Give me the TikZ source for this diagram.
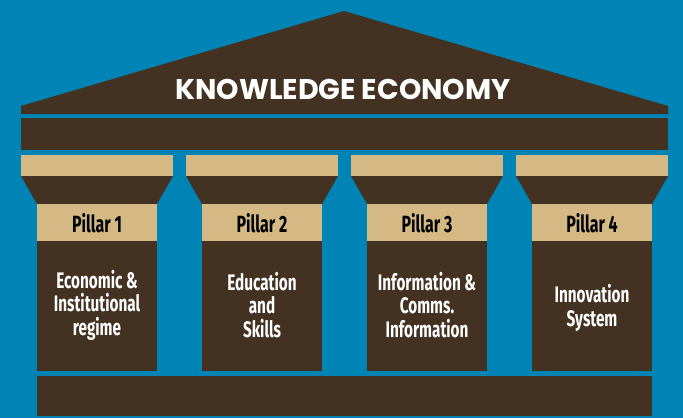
\documentclass[tikz,border=0pt]{standalone}
\usepackage{fontspec}
\newfontfamily\rooffont{Poppins}
\newfontfamily\condfont[FakeStretch=0.68]{Fira Sans}
\definecolor{bg}{HTML}{0083B5}
\definecolor{brn}{HTML}{433122}
\definecolor{tanc}{HTML}{D4B984}
\tikzset{
  roofstyle/.style={text=white,font=\rooffont\bfseries\fontsize{28.5}{30}\selectfont,inner sep=0pt},
  hdrstyle/.style={text=black,font=\condfont\bfseries\fontsize{23.5}{25}\selectfont,inner sep=0pt},
  bodystyle/.style={text=white,align=center,font=\condfont\bfseries\fontsize{22.5}{23.5}\selectfont,inner sep=0pt},
}
\begin{document}
\begin{tikzpicture}[x=1pt,y=-1pt]
\useasboundingbox (0,0) rectangle (683,418);
\fill[bg] (0,0) rectangle (683,418);
% roof
\fill[brn] (21,114) -- (21,106) -- (344,11) -- (668,106) -- (668,114) -- cycle;
\node[roofstyle] (title) at (343,89) {KNOWLEDGE ECONOMY};
% entablature
\fill[brn] (21,118) rectangle (668,150);
% columns
\foreach \i/\x/\ty/\txt in {1/21/305/{Economic \&\\Institutional\\regime},2/186/305/{Education\\and\\Skills},3/351/305/{Information \&\\Comms.\\Information},4/516/308/{Innovation\\System}}{
  \fill[tanc] (\x,155) rectangle (\x+152,176);
  \fill[brn] (\x,176) -- (\x+152,176) -- (\x+136,204) -- (\x+16,204) -- cycle;
  \fill[tanc] (\x+16,204) rectangle (\x+136,241);
  \fill[brn] (\x+16,241) rectangle (\x+136,371);
  \node[hdrstyle] (h\i) at (\x+76,223) {Pillar \i};
  \node[bodystyle] (b\i) at (\x+76,\ty) {\txt};
}
% base
\fill[brn] (37,376) rectangle (652,416);
\end{tikzpicture}
\end{document}
